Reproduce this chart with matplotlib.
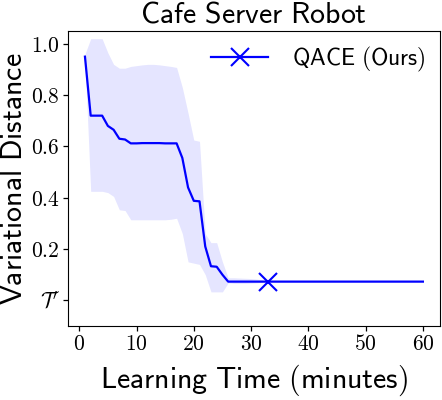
import matplotlib
matplotlib.use("Agg")
import matplotlib.pyplot as plt
from matplotlib.lines import Line2D
import numpy as np

plt.rcParams['mathtext.fontset'] = 'cm'

# learning time (minutes) and mean variational distance
minutes = list(range(1, 61))
mean_dist = [0.95, 0.72, 0.72, 0.72, 0.68, 0.665, 0.63, 0.627, 0.612, 0.612,
             0.613, 0.613, 0.613, 0.613, 0.612, 0.612, 0.612, 0.555, 0.44, 0.388,
             0.386, 0.21, 0.133, 0.131, 0.10, 0.073] + [0.073] * 34

# spread band (only up to convergence)
band_minutes = list(range(1, 33))
band_upper = [0.96, 1.02, 1.02, 1.02, 0.965, 0.92, 0.905, 0.905, 0.912, 0.915,
              0.918, 0.92, 0.92, 0.918, 0.915, 0.912, 0.908, 0.83, 0.73, 0.625,
              0.62, 0.26, 0.225, 0.225, 0.15, 0.088, 0.088, 0.087, 0.086, 0.085,
              0.083, 0.08]
band_lower = [0.94, 0.425, 0.425, 0.425, 0.42, 0.405, 0.353, 0.35, 0.314, 0.314,
              0.314, 0.314, 0.314, 0.314, 0.314, 0.316, 0.32, 0.26, 0.15, 0.145,
              0.14, 0.10, 0.033, 0.033, 0.033, 0.068, 0.066, 0.066, 0.066, 0.067,
              0.068, 0.07]

converged_at = 33

ytick_vals = [0.0, 0.2, 0.4, 0.6, 0.8, 1.0]
ytick_labels = [r"$\mathcal{T}'$", "$0.2$", "$0.4$", "$0.6$", "$0.8$", "$1.0$"]
xtick_vals = [0, 10, 20, 30, 40, 50, 60]

fig = plt.figure(figsize=(4.42, 4.0), dpi=100)
ax = fig.add_axes([0.154, 0.185, 0.841, 0.7375])

ax.fill_between(band_minutes, band_lower, band_upper, color='blue', alpha=0.1, linewidth=0)
ax.plot(minutes, mean_dist, color='blue', linewidth=1.6)
idx = minutes.index(converged_at)
ax.plot([minutes[idx]], [mean_dist[idx]], color='blue', marker='x', markersize=13,
        markeredgewidth=1.5, linestyle='none')

ax.set_xlim(-1.95, 62.95)
ax.set_ylim(-0.1, 1.05)
ax.set_yticks(ytick_vals)
ax.set_yticklabels(ytick_labels, fontsize=15.5)
ax.set_xticks(xtick_vals)
ax.set_xticklabels(["$%d$" % v for v in xtick_vals], fontsize=15.5)
ax.tick_params(length=3.5, width=0.9, pad=2.5)

ax.set_title(r"$\mathsf{Cafe\ Server\ Robot}$", fontsize=21.5, pad=6)
ax.set_xlabel(r"$\mathsf{Learning\ Time\ (minutes)}$", fontsize=21.5, labelpad=6)
ax.set_ylabel(r"$\mathsf{Variational\ Distance}$", fontsize=21.5, labelpad=2)

handle = Line2D([], [], color='blue', linewidth=1.6, marker='x', markersize=13,
                markeredgewidth=1.5)
ax.legend([handle], [r"$\mathsf{QACE\ (Ours)}$"], loc='upper right', frameon=False,
          fontsize=17, handlelength=2.4, handletextpad=1.0, borderaxespad=0.2)

fig.savefig("out.png", dpi=100)
